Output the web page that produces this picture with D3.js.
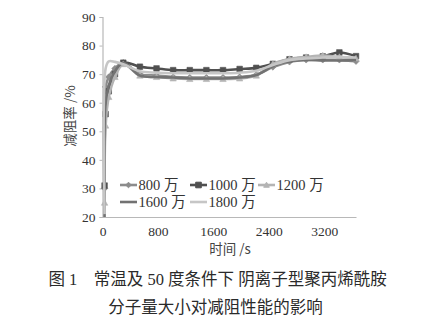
<!DOCTYPE html>
<html>
<head>
<meta charset="utf-8">
<script src="https://cdn.jsdelivr.net/npm/d3@7"></script>
<style>
  html, body { margin: 0; padding: 0; background: #fff; }
  svg { display: block; }
</style>
</head>
<body>
<svg id="chart" width="425" height="323"></svg>
<script>
// Sampling times (s)
const times = [30, 45, 90, 180, 300, 540, 780, 1020, 1260, 1500, 1740, 1980, 2220, 2460, 2700, 2940, 3180, 3420, 3660];

// Drag reduction (%) for each molecular weight
const dr800  = [30, 65.5, 69, 72, 74, 70, 69.5, 69, 68.8, 68.8, 68.8, 69, 69.8, 72.5, 74.3, 75, 75, 75, 74.5];
const dr1000 = [31, 56, 64, 70, 74, 72.6, 72, 71.4, 71.4, 71.4, 71.4, 71.8, 72.2, 73.6, 75.2, 75.8, 76.2, 77.6, 76.3];
const dr1200 = [25, 52, 62, 69, 73.5, 69.5, 69, 68.5, 68.3, 68.3, 68.3, 68.5, 69.5, 73.6, 75.3, 76, 76.5, 76, 75.5];
const dr1600 = [20, 60, 66, 71, 74, 69.5, 69, 68.8, 68.5, 68.5, 68.5, 68.8, 69.7, 72.8, 74.6, 75, 74.8, 74.8, 75];
const dr1800 = [21, 72, 74.5, 74.3, 73.5, 71, 70.5, 70.3, 70.3, 70.3, 70.3, 70.5, 71.2, 73.2, 74.9, 75.5, 75.8, 76, 75.8];

const seriesNames = ["800 万", "1000 万", "1200 万", "1600 万", "1800 万"];
const xTicks = [0, 800, 1600, 2400, 3200];
const yTicks = [20, 30, 40, 50, 60, 70, 80, 90];

const series = [
  { name: seriesNames[0], values: dr800,  color: "#8c8c8c", marker: "diamond" },
  { name: seriesNames[1], values: dr1000, color: "#505050", marker: "square" },
  { name: seriesNames[2], values: dr1200, color: "#b4b4b4", marker: "triangle" },
  { name: seriesNames[3], values: dr1600, color: "#727272", marker: null },
  { name: seriesNames[4], values: dr1800, color: "#c6c6c6", marker: null }
];

const svg = d3.select("#chart");
const serif = "'Liberation Serif', 'Noto Sans CJK SC', serif";

const x = d3.scaleLinear().domain([0, 3660]).range([102.5, 356]);
const y = d3.scaleLinear().domain([20, 90]).range([217, 17]);

// Axes
const axisColor = "#b8b8b8";
const gx = svg.append("g").attr("transform", `translate(0,${y(20)})`)
  .call(d3.axisBottom(x).tickValues(xTicks).tickFormat(d3.format("d")).tickSize(0).tickPadding(9));
const gy = svg.append("g").attr("transform", `translate(${x(0)},0)`)
  .call(d3.axisLeft(y).tickValues(yTicks).tickFormat(d3.format("d")).tickSize(3).tickPadding(4));
[gx, gy].forEach(g => {
  g.selectAll(".domain").attr("stroke", axisColor).attr("stroke-width", 1.2);
  g.selectAll(".tick line").attr("stroke", axisColor);
  g.selectAll(".tick text").attr("fill", "#333").attr("font-family", serif).attr("font-size", 13.5);
});

// Series lines (smoothed) and markers
const line = d3.line()
  .x((d, i) => x(times[i]))
  .y(d => y(d))
  .curve(d3.curveCatmullRom.alpha(0.5));

function markerPath(type, s) {
  if (type === "square") return `M${-s},${-s}h${2*s}v${2*s}h${-2*s}Z`;
  if (type === "diamond") return `M0,${-s}L${s},0L0,${s}L${-s},0Z`;
  if (type === "triangle") return `M0,${-s}L${s},${s*0.8}L${-s},${s*0.8}Z`;
  return "";
}

const plot = svg.append("g");
series.forEach(sr => {
  plot.append("path")
    .attr("d", line(sr.values))
    .attr("fill", "none")
    .attr("stroke", sr.color)
    .attr("stroke-width", 2.6)
    .attr("stroke-linejoin", "round");
  if (sr.marker) {
    const sz = sr.marker === "square" ? 2.8 : 3.2;
    plot.selectAll(null).data(sr.values).enter().append("path")
      .attr("transform", (d, i) => `translate(${x(times[i])},${y(d)})`)
      .attr("d", markerPath(sr.marker, sz))
      .attr("fill", sr.color)
      .attr("stroke", sr.color)
      .attr("stroke-width", 0.6);
  }
});

// Legend
const legendPos = [
  [120, 185], [190, 185], [258, 185],
  [120, 202], [190, 202]
];
series.forEach((sr, i) => {
  const [lx, ly] = legendPos[i];
  const g = svg.append("g").attr("transform", `translate(${lx},${ly})`);
  g.append("line").attr("x1", 0).attr("x2", 17).attr("y1", 0).attr("y2", 0)
    .attr("stroke", sr.color).attr("stroke-width", 2.6);
  if (sr.marker) {
    g.append("path").attr("transform", "translate(8.5,0)")
      .attr("d", markerPath(sr.marker, 2.8)).attr("fill", sr.color).attr("stroke", sr.color);
  }
  g.append("text").attr("x", 18.5).attr("y", 0).attr("dy", "0.35em")
    .attr("font-family", serif).attr("font-size", 14.5).attr("fill", "#333")
    .text(sr.name);
});

// Axis titles
svg.append("text")
  .attr("transform", `translate(75,116) rotate(-90)`)
  .attr("text-anchor", "middle")
  .attr("font-family", "'Noto Sans CJK SC', sans-serif")
  .attr("font-size", 13.5).attr("fill", "#444")
  .text("减阻率 /%");
svg.append("text")
  .attr("x", 230).attr("y", 254)
  .attr("text-anchor", "middle")
  .attr("font-family", "'Noto Sans CJK SC', sans-serif")
  .attr("font-size", 13.5).attr("fill", "#444")
  .text("时间 /s");

// Caption
const cap = svg.append("g").attr("font-family", serif).attr("fill", "#2a2a2a");
cap.append("text").attr("x", 217.5).attr("y", 285).attr("text-anchor", "middle")
  .attr("font-size", 16.5)
  .text("图 1　常温及 50 度条件下 阴离子型聚丙烯酰胺");
cap.append("text").attr("x", 215.5).attr("y", 313).attr("text-anchor", "middle")
  .attr("font-size", 16.5)
  .text("分子量大小对减阻性能的影响");
</script>
</body>
</html>
